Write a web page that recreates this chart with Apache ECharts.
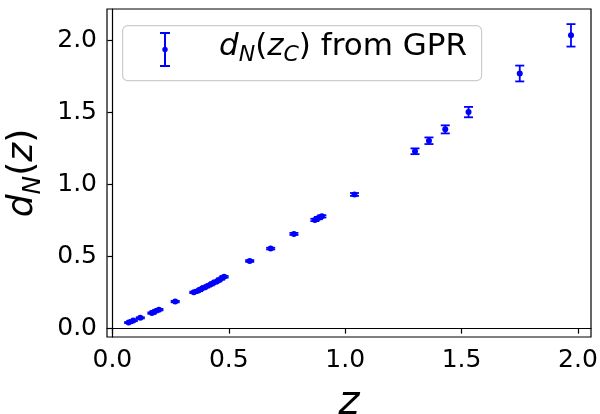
<!DOCTYPE html>
<html>
<head>
<meta charset="utf-8">
<script src="https://cdn.jsdelivr.net/npm/echarts@6/dist/echarts.min.js"></script>
<style>html,body{margin:0;padding:0;background:#fff;}#chart{width:600px;height:414px;}</style>
</head>
<body>
<div id="chart"></div>
<script>
// Data
const zValues  = [0.07, 0.09, 0.12, 0.17, 0.18, 0.20, 0.27, 0.35, 0.37, 0.385, 0.40, 0.42, 0.435, 0.45, 0.465, 0.48, 0.59, 0.68, 0.78, 0.87, 0.885, 0.90, 1.04, 1.30, 1.36, 1.43, 1.53, 1.75, 1.97];
const dNValues = [0.042, 0.056, 0.075, 0.108, 0.118, 0.132, 0.188, 0.252, 0.265, 0.278, 0.29, 0.305, 0.318, 0.33, 0.345, 0.36, 0.47, 0.556, 0.658, 0.755, 0.768, 0.78, 0.932, 1.232, 1.305, 1.384, 1.504, 1.772, 2.037];
const dNErrors = [0.004, 0.004, 0.004, 0.005, 0.005, 0.005, 0.005, 0.005, 0.005, 0.005, 0.005, 0.005, 0.005, 0.005, 0.005, 0.006, 0.006, 0.006, 0.007, 0.008, 0.008, 0.008, 0.010, 0.020, 0.023, 0.028, 0.036, 0.055, 0.078];
const xTicks = [0, 0.5, 1.0, 1.5, 2.0];
const yTicks = [0, 0.5, 1.0, 1.5, 2.0];

const data = zValues.map((z, i) => [z, dNValues[i], dNErrors[i]]);
const BLUE = '#0000ff';
const FONT = 'DejaVu Sans';

const chart = echarts.init(document.getElementById('chart'), null, {renderer: 'canvas'});
chart.setOption({
  animation: false,
  backgroundColor: '#fff',
  grid: {left: 107, right: 9, top: 9, bottom: 77, outerBoundsMode: 'none', containLabel: false, show: true, borderColor: '#000', borderWidth: 1.2, backgroundColor: 'transparent'},
  xAxis: {
    type: 'value', min: -0.023, max: 2.056,
    axisLine: {show: true, lineStyle: {color: '#000', width: 1.2}},
    axisTick: {show: true, length: 5, customValues: xTicks, lineStyle: {color: '#000', width: 1.2}},
    axisLabel: {customValues: xTicks, formatter: v => v.toFixed(1), fontFamily: FONT, fontSize: 25, color: '#000', margin: 11},
    splitLine: {show: false},
    name: '{i|z}', nameLocation: 'middle', nameGap: 47,
    nameTextStyle: {rich: {i: {fontFamily: FONT, fontStyle: 'italic', fontSize: 40, color: '#000'}}}
  },
  yAxis: {
    type: 'value', min: -0.058, max: 2.22,
    axisLine: {show: true, lineStyle: {color: '#000', width: 1.2}},
    axisTick: {show: true, length: 5, customValues: yTicks, lineStyle: {color: '#000', width: 1.2}},
    axisLabel: {customValues: yTicks, formatter: v => v.toFixed(1), fontFamily: FONT, fontSize: 25, color: '#000', margin: 10},
    splitLine: {show: false},
    name: '{i|d}{s|N}{n|(}{i|z}{n|)}', nameLocation: 'middle', nameRotate: 90, nameGap: 58,
    nameTextStyle: {rich: {
      i: {fontFamily: FONT, fontStyle: 'italic', fontSize: 36, color: '#000', lineHeight: 48, verticalAlign: 'middle'},
      n: {fontFamily: FONT, fontSize: 36, color: '#000', lineHeight: 48, verticalAlign: 'middle'},
      s: {fontFamily: FONT, fontStyle: 'italic', fontSize: 25, color: '#000', lineHeight: 36, verticalAlign: 'bottom'}
    }}
  },
  graphic: [
    {type: 'rect', left: 122, top: 25, shape: {width: 359, height: 55, r: 5}, style: {fill: 'rgba(255,255,255,0.8)', stroke: '#cccccc', lineWidth: 1.2}, z: 10},
    {type: 'line', z: 20, shape: {x1: 165, y1: 33, x2: 165, y2: 66}, style: {stroke: BLUE, lineWidth: 2}},
    {type: 'line', z: 20, shape: {x1: 160, y1: 33, x2: 170, y2: 33}, style: {stroke: BLUE, lineWidth: 2}},
    {type: 'line', z: 20, shape: {x1: 160, y1: 66, x2: 170, y2: 66}, style: {stroke: BLUE, lineWidth: 2}},
    {type: 'circle', z: 20, shape: {cx: 165, cy: 49.5, r: 2.7}, style: {fill: BLUE}},
    {type: 'text', left: 219, top: 31, z: 20, style: {
      text: '{i|d}{s|N}{n|(}{i|z}{s|C}{n|) from GPR}',
      rich: {
        i: {fontFamily: FONT, fontStyle: 'italic', fontSize: 31, fill: '#000', lineHeight: 40, verticalAlign: 'middle'},
        n: {fontFamily: FONT, fontSize: 31, fill: '#000', lineHeight: 40, verticalAlign: 'middle'},
        s: {fontFamily: FONT, fontStyle: 'italic', fontSize: 22, fill: '#000', lineHeight: 30, verticalAlign: 'bottom'}
      }
    }}
  ],
  series: [{
    type: 'custom',
    data: data,
    encode: {x: 0, y: 1},
    renderItem: function (params, api) {
      const x = api.value(0), y = api.value(1), e = api.value(2);
      const c = api.coord([x, y]);
      const hi = api.coord([x, y + e]);
      const lo = api.coord([x, y - e]);
      const st = {stroke: BLUE, lineWidth: 1.8};
      return {type: 'group', children: [
        {type: 'line', shape: {x1: c[0], y1: hi[1], x2: c[0], y2: lo[1]}, style: st},
        {type: 'line', shape: {x1: c[0] - 4.5, y1: hi[1], x2: c[0] + 4.5, y2: hi[1]}, style: st},
        {type: 'line', shape: {x1: c[0] - 4.5, y1: lo[1], x2: c[0] + 4.5, y2: lo[1]}, style: st},
        {type: 'circle', shape: {cx: c[0], cy: c[1], r: 3}, style: {fill: BLUE}}
      ]};
    }
  }]
});
</script>
</body>
</html>
